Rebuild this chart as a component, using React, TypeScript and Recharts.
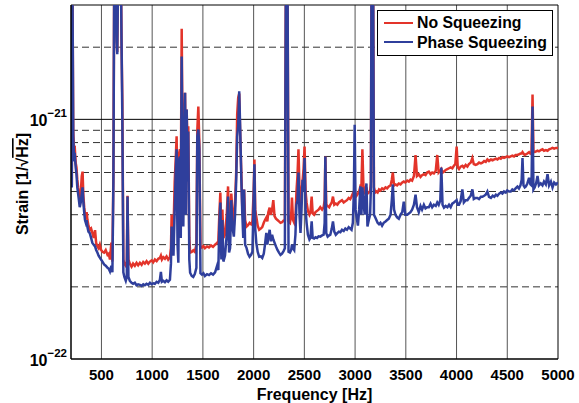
import React from 'react';
import { LineChart, Line, XAxis, YAxis, ReferenceLine, Legend } from 'recharts';

// strain values are in units of 1e-22 / sqrt(Hz)
const freqs = [
  200, 208, 214, 222, 230, 238, 246, 254, 262, 270, 278, 286, 296, 306, 314, 322, 330, 338, 346, 354,
  362, 372, 385, 398, 411, 424, 437, 448, 460, 472, 484, 496, 510, 526, 542, 560, 572, 584, 598, 608,
  618, 626, 640, 650, 656, 664, 680, 692, 698, 706, 716, 726, 740, 750, 757, 766, 780, 797, 812, 829,
  846, 862, 879, 896, 912, 928, 945, 962, 978, 995, 1010, 1027, 1044, 1060, 1076, 1086, 1096, 1110, 1126, 1142,
  1158, 1175, 1185, 1192, 1200, 1210, 1222, 1232, 1241, 1250, 1258, 1266, 1274, 1282, 1291, 1299, 1307, 1316, 1324, 1332,
  1340, 1348, 1356, 1366, 1374, 1390, 1405, 1420, 1436, 1445, 1455, 1465, 1476, 1490, 1505, 1520, 1541, 1560, 1580, 1600,
  1620, 1640, 1652, 1662, 1672, 1682, 1692, 1702, 1718, 1735, 1748, 1758, 1768, 1780, 1790, 1805, 1817, 1828, 1838, 1848,
  1858, 1868, 1878, 1888, 1898, 1906, 1916, 1930, 1945, 1960, 1975, 1988, 2000, 2008, 2016, 2026, 2040, 2055, 2070, 2085,
  2100, 2112, 2125, 2135, 2145, 2158, 2170, 2182, 2194, 2206, 2220, 2235, 2250, 2265, 2280, 2295, 2308, 2318, 2334, 2344,
  2358, 2370, 2378, 2388, 2400, 2412, 2422, 2432, 2442, 2452, 2462, 2472, 2482, 2492, 2502, 2512, 2522, 2535, 2550, 2560,
  2572, 2582, 2596, 2610, 2625, 2640, 2657, 2675, 2690, 2700, 2707, 2716, 2730, 2745, 2756, 2770, 2782, 2795, 2810, 2825,
  2840, 2855, 2871, 2888, 2904, 2920, 2937, 2952, 2965, 2978, 2988, 2996, 3005, 3015, 3028, 3040, 3052, 3062, 3072, 3082,
  3095, 3105, 3112, 3122, 3135, 3148, 3156, 3162, 3178, 3186, 3198, 3210, 3222, 3236, 3250, 3266, 3282, 3300, 3316, 3332,
  3350, 3362, 3372, 3384, 3398, 3414, 3431, 3448, 3465, 3480, 3495, 3514, 3530, 3546, 3562, 3580, 3596, 3610, 3628, 3645,
  3660, 3678, 3694, 3710, 3727, 3744, 3760, 3777, 3795, 3810, 3824, 3840, 3850, 3862, 3876, 3893, 3910, 3926, 3942, 3958,
  3974, 3988, 4001, 4012, 4024, 4040, 4057, 4072, 4090, 4107, 4122, 4140, 4156, 4170, 4188, 4205, 4222, 4240, 4255, 4272,
  4288, 4304, 4320, 4339, 4356, 4372, 4388, 4403, 4420, 4436, 4452, 4468, 4485, 4500, 4518, 4534, 4550, 4566, 4582, 4600,
  4615, 4630, 4642, 4650, 4660, 4672, 4683, 4698, 4715, 4728, 4739, 4749, 4758, 4770, 4784, 4798, 4812, 4830, 4847, 4862,
  4880, 4897, 4912, 4930, 4946, 4962, 4980, 5000,
];

const noSqueezing = [
  5.6, 5.3, 40, 9.0, 7.4, 7.5, 6.6, 6.3, 5.6, 5.2, 4.9, 4.6, 4.9, 5.8, 6.05, 4.8, 4.3, 4.0, 3.9, 4.1,
  3.8, 3.6, 3.45, 3.5, 3.35, 3.2, 3.45, 3.05, 2.95, 2.9, 3.0, 2.86, 2.8, 2.78, 2.85, 2.72, 2.75, 2.6, 3.06, 2.55,
  6.0, 40, 40, 22, 19.1, 40, 40, 40, 21.2, 12, 2.6, 2.5, 2.45, 2.55, 4.8, 2.6, 2.5, 2.43, 2.5, 2.45,
  2.52, 2.46, 2.52, 2.47, 2.54, 2.5, 2.56, 2.5, 2.55, 2.58, 2.53, 2.6, 2.56, 2.62, 2.64, 2.7, 2.6, 2.66, 2.62, 2.68,
  2.6, 2.66, 2.9, 4.0, 3.3, 3.36, 5.5, 6.8, 8.5, 4.8, 3.4, 7.2, 7.5, 5.0, 23.9, 9.0, 4.2, 9.0, 12.9, 6.0,
  11.0, 8.0, 9.35, 3.2, 2.78, 2.8, 2.84, 2.8, 3.0, 9.0, 11.3, 8.0, 2.96, 2.92, 2.96, 2.9, 2.95, 2.92, 2.98, 2.94,
  3.0, 3.05, 3.1, 4.0, 4.95, 3.4, 4.2, 3.2, 3.3, 4.0, 5.25, 3.6, 3.4, 4.9, 4.2, 3.6, 4.5, 6.0, 10.5, 12.3,
  12.8, 8.5, 6.1, 4.3, 4.0, 5.1, 3.8, 3.57, 3.62, 3.7, 3.65, 3.75, 5.0, 6.8, 4.2, 3.93, 3.6, 3.46, 3.5, 3.55,
  3.7, 3.8, 3.89, 3.75, 4.1, 4.28, 4.0, 4.2, 4.6, 3.95, 3.85, 3.8, 3.75, 3.7, 3.72, 3.78, 3.8, 40, 40, 3.75,
  3.7, 4.0, 4.72, 3.8, 3.7, 3.9, 5.0, 5.8, 7.5, 5.2, 4.4, 5.0, 5.5, 6.2, 7.7, 5.0, 4.5, 4.15, 4.0, 4.1,
  4.76, 4.05, 4.0, 4.1, 4.15, 4.2, 4.3, 4.2, 4.3, 4.6, 7.0, 4.4, 4.35, 4.3, 4.4, 4.5, 4.76, 4.4, 4.45, 4.4,
  4.5, 4.55, 4.6, 4.5, 4.55, 4.6, 4.7, 4.65, 4.76, 4.9, 5.0, 5.1, 4.9, 4.8, 4.9, 5.0, 5.25, 5.2, 7.5, 5.3,
  5.0, 5.1, 5.2, 4.9, 4.95, 5.0, 5.5, 40, 40, 5.2, 4.95, 5.0, 4.95, 5.1, 5.05, 5.15, 5.1, 5.2, 5.15, 5.25,
  5.3, 5.6, 6.0, 5.3, 5.35, 5.3, 5.4, 5.35, 5.45, 5.5, 5.45, 5.55, 5.5, 5.6, 5.55, 5.8, 7.1, 5.8, 5.9, 5.75,
  5.85, 5.9, 5.85, 6.0, 6.05, 5.9, 6.0, 5.95, 6.1, 7.1, 6.0, 6.1, 6.2, 6.0, 6.05, 6.15, 6.2, 6.25, 6.3, 6.25,
  6.4, 6.5, 7.7, 6.3, 6.2, 6.35, 6.4, 6.3, 6.45, 6.35, 6.5, 6.6, 6.9, 6.5, 6.45, 6.5, 6.6, 6.55, 6.6, 6.7,
  6.65, 6.8, 6.7, 6.8, 6.75, 6.8, 6.85, 6.8, 6.9, 6.85, 6.95, 6.9, 6.95, 7.0, 6.95, 7.0, 7.05, 7.0, 7.1, 7.1,
  7.15, 7.2, 7.2, 7.3, 7.2, 7.1, 7.15, 7.2, 7.3, 7.2, 7.25, 12.7, 7.3, 7.3, 7.35, 7.4, 7.35, 7.45, 7.5, 7.4,
  7.45, 7.4, 7.5, 7.55, 7.6, 7.55, 7.6, 7.6,
];

const phaseSqueezing = [
  5.5, 5.2, 40, 8.5, 6.9, 7.0, 6.3, 5.9, 5.2, 4.9, 4.6, 4.3, 4.5, 4.9, 5.2, 4.5, 4.1, 3.8, 3.7, 3.8,
  3.55, 3.4, 3.35, 3.2, 3.05, 3.0, 2.95, 2.85, 2.78, 2.7, 2.65, 2.6, 2.55, 2.48, 2.45, 2.4, 2.38, 2.32, 2.45, 2.3,
  5.5, 40, 40, 21, 18.7, 40, 40, 40, 21.2, 10, 2.3, 2.2, 2.12, 2.2, 4.76, 2.2, 2.12, 2.08, 2.06, 2.08,
  2.03, 2.05, 2.04, 2.02, 2.05, 2.03, 2.06, 2.04, 2.08, 2.05, 2.07, 2.06, 2.1, 2.08, 2.14, 2.31, 2.1, 2.12, 2.09, 2.13,
  2.1, 2.14, 2.5, 3.57, 2.9, 2.7, 4.2, 6.0, 7.5, 3.0, 2.52, 6.8, 7.0, 3.2, 18.3, 6.0, 3.57, 8.0, 12.9, 4.0,
  11.0, 5.5, 8.9, 2.6, 2.29, 2.22, 2.2, 2.26, 2.4, 8.5, 9.07, 7.5, 2.28, 2.25, 2.28, 2.22, 2.26, 2.24, 2.28, 2.25,
  2.3, 2.45, 2.35, 3.6, 4.5, 2.6, 3.8, 2.55, 2.7, 3.3, 4.76, 2.78, 2.9, 4.6, 3.6, 3.24, 4.0, 5.5, 8.5, 9.4,
  13.1, 9.0, 5.8, 4.08, 3.2, 5.1, 3.0, 2.91, 2.75, 2.67, 2.72, 2.8, 4.6, 6.5, 3.5, 3.06, 2.8, 2.67, 2.68, 2.64,
  2.75, 3.0, 3.36, 3.0, 3.2, 3.46, 3.1, 3.3, 3.15, 3.06, 2.95, 2.85, 2.78, 2.72, 2.75, 2.82, 2.9, 40, 40, 2.8,
  2.78, 2.85, 3.0, 2.9, 2.85, 3.3, 4.4, 4.6, 6.0, 4.0, 3.36, 4.2, 5.6, 5.0, 6.9, 4.2, 3.7, 3.3, 3.15, 3.2,
  3.75, 3.2, 3.18, 3.22, 3.2, 3.25, 3.24, 3.28, 3.3, 3.7, 7.0, 3.35, 3.24, 3.28, 3.3, 3.5, 3.75, 3.4, 3.3, 3.35,
  3.4, 3.38, 3.46, 3.42, 3.5, 3.46, 3.55, 3.5, 3.46, 3.7, 5.0, 9.5, 4.2, 3.9, 3.6, 4.2, 5.25, 4.0, 5.2, 4.5,
  4.0, 5.0, 5.4, 3.57, 3.8, 4.0, 5.2, 40, 40, 4.0, 3.9, 3.8, 3.7, 3.65, 3.7, 3.6, 3.7, 3.75, 3.8, 3.85,
  4.0, 4.6, 5.35, 4.2, 4.0, 3.9, 3.85, 4.0, 4.1, 4.53, 4.0, 4.0, 4.05, 4.1, 4.2, 4.4, 4.85, 4.3, 4.1, 4.35,
  4.2, 4.4, 4.25, 4.3, 4.3, 4.45, 4.3, 4.4, 4.35, 4.5, 4.4, 4.6, 6.3, 4.4, 4.28, 4.35, 4.3, 4.4, 4.3, 4.45,
  4.5, 4.55, 4.6, 4.4, 4.4, 4.55, 5.1, 4.5, 4.6, 4.6, 4.7, 4.8, 5.1, 4.65, 4.7, 4.7, 4.65, 4.75, 4.75, 4.8,
  4.85, 5.0, 4.75, 4.7, 4.8, 4.75, 4.85, 4.8, 4.9, 4.95, 4.9, 5.0, 4.95, 5.05, 5.0, 5.0, 5.1, 5.05, 5.15, 5.24,
  5.15, 5.3, 5.6, 6.9, 5.3, 5.2, 5.25, 5.4, 5.7, 5.35, 5.3, 11.3, 5.1, 5.2, 5.4, 5.8, 5.3, 5.4, 5.3, 5.5,
  5.35, 5.9, 5.3, 5.5, 5.2, 5.45, 5.35, 5.45,
];

const seriesNames = ['No Squeezing', 'Phase Squeezing'];
const seriesColors = ['#e3342a', '#2f3f9c'];

const xTicks = [500, 1000, 1500, 2000, 2500, 3000, 3500, 4000, 4500, 5000];
const yTicks = [1, 10];
const yTickExponents = ['−22', '−21'];
const yMinorGrid = [2, 3, 4, 5, 6, 7, 8, 9, 20];

const font = '"Liberation Sans", Arial, Helvetica, sans-serif';

const YTick = (props: any) => {
  const { x, y, payload } = props;
  const i = yTicks.indexOf(payload.value);
  return (
    <text x={x} y={y + 7} textAnchor="end" fontSize={16} fontWeight="bold" fill="#000" fontFamily={font}>
      10
      <tspan dy={-9} fontSize={11.5}>{yTickExponents[i]}</tspan>
    </text>
  );
};

const LegendBox = () => (
  <div
    style={{
      border: '1px solid #000',
      background: '#fff',
      padding: '2px 4px 3px 6px',
      fontFamily: font,
      fontWeight: 'bold',
      fontSize: 15.8,
      lineHeight: '19.5px',
    }}
  >
    {seriesNames.map((name, i) => (
      <div key={name} style={{ display: 'flex', alignItems: 'center' }}>
        <span style={{ display: 'inline-block', width: 29, height: 2, background: seriesColors[i], marginRight: 4 }} />
        <span>{name}</span>
      </div>
    ))}
  </div>
);

export default function App() {
  const data = freqs.map((f, i) => ({ f, red: noSqueezing[i], blue: phaseSqueezing[i] }));

  return (
    <div style={{ position: 'absolute', left: 0, top: 0, width: 579, height: 403, background: '#fff' }}>
      <LineChart width={579} height={403} data={data} margin={{ top: 5, right: 21, left: 0, bottom: 0 }}>
        {xTicks.slice(0, -1).map((v) => (
          <ReferenceLine key={`vx-${v}`} x={v} stroke="#555" strokeWidth={1} />
        ))}
        {yMinorGrid.map((v) => (
          <ReferenceLine key={`hy-${v}`} y={v} stroke="#333" strokeWidth={1} strokeDasharray="7 4" />
        ))}
        <ReferenceLine y={10} stroke="#000" strokeWidth={1} />
        <XAxis
          dataKey="f"
          type="number"
          domain={[200, 5000]}
          ticks={xTicks}
          allowDataOverflow
          height={44}
          tickLine={false}
          tickMargin={4}
          axisLine={{ stroke: '#000', strokeWidth: 1.5 }}
          tick={{ fill: '#000', fontSize: 15, fontWeight: 'bold', fontFamily: font }}
          label={{
            value: 'Frequency [Hz]',
            position: 'insideBottom',
            offset: 3,
            style: { fill: '#000', fontSize: 16, fontWeight: 'bold', fontFamily: font },
          }}
        />
        <YAxis
          type="number"
          scale="log"
          domain={[1, 30]}
          ticks={yTicks}
          allowDataOverflow
          width={71}
          tickLine={false}
          tickSize={0}
          tickMargin={4}
          axisLine={{ stroke: '#000', strokeWidth: 1.5 }}
          tick={<YTick />}
          label={{
            content: () => (
              <text
                transform="translate(22,184) rotate(-90)"
                textAnchor="middle"
                dominantBaseline="central"
                fontSize={16}
                fontWeight="bold"
                fill="#000"
                fontFamily={font}
              >
                Strain [1/√<tspan style={{ textDecoration: 'overline' }}>Hz</tspan>]
              </text>
            ),
          }}
        />
        <ReferenceLine y={30} stroke="#000" strokeWidth={1} />
        <ReferenceLine x={5000} stroke="#000" strokeWidth={1} />
        <Line
          dataKey="red"
          name={seriesNames[0]}
          stroke={seriesColors[0]}
          strokeWidth={2.5}
          dot={false}
          isAnimationActive={false}
        />
        <Line
          dataKey="blue"
          name={seriesNames[1]}
          stroke={seriesColors[1]}
          strokeWidth={2.5}
          dot={false}
          isAnimationActive={false}
        />
        <Legend
          layout="vertical"
          align="center"
          verticalAlign="middle"
          wrapperStyle={{ left: 377, top: 10, width: 176 }}
          content={() => <LegendBox />}
        />
      </LineChart>
    </div>
  );
}
